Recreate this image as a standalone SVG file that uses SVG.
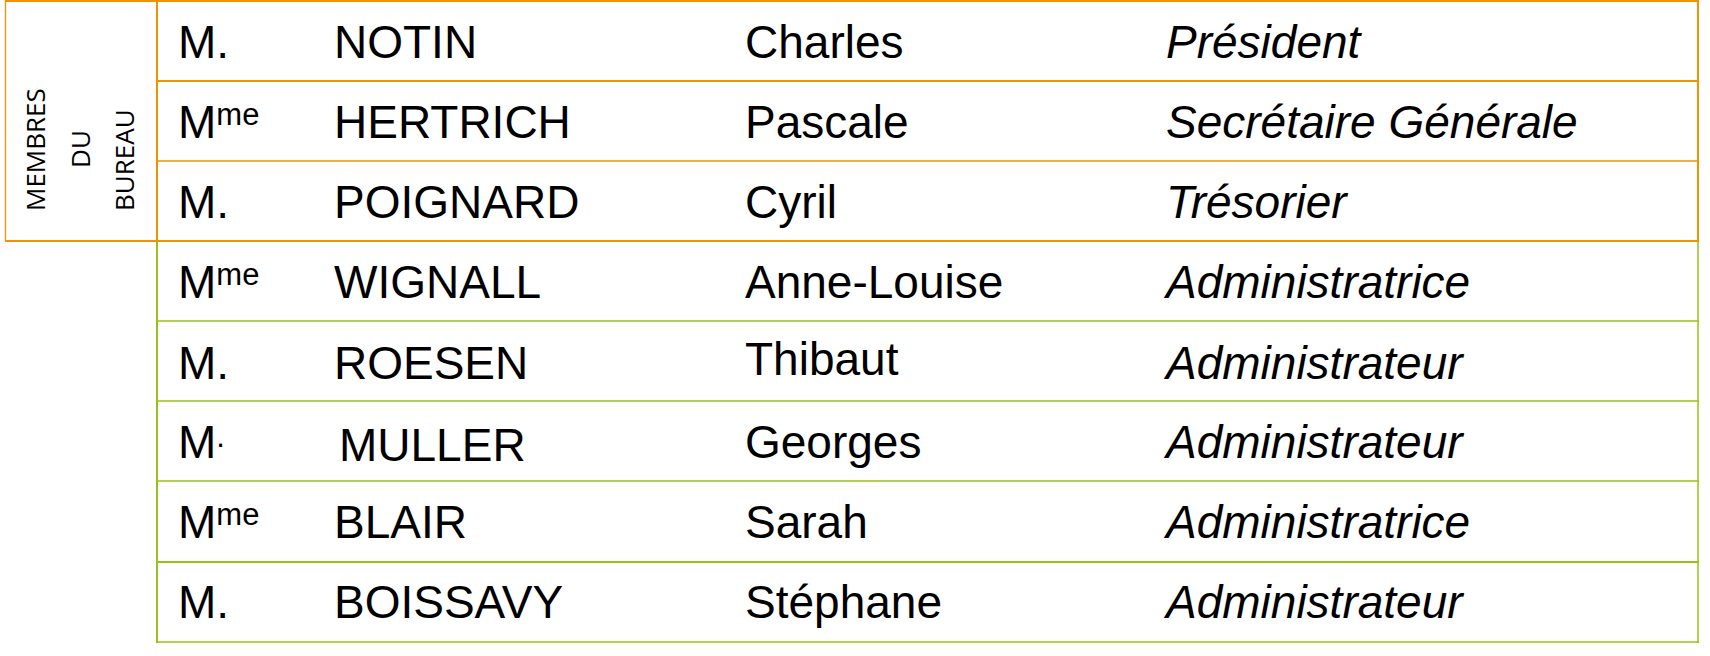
<svg xmlns="http://www.w3.org/2000/svg" width="1710" height="656" viewBox="0 0 1710 656">
<style>
  .t { font-family: "Liberation Sans", Arial, sans-serif; font-size: 46px; fill: #000; }
  .r { font-style: italic; }
  .sup { font-size: 31px; }
  .side { font-family: "Open Sans", "Liberation Sans", sans-serif; font-size: 26px; fill: #000; }
  .o { stroke: #F39200; fill: none; }
  .g { stroke: #98C21A; fill: none; }
</style>
<rect width="1710" height="656" fill="#fff"/>
<g id="grid">
  <rect class="o" x="5.5" y="1" width="151.5" height="240" stroke-width="1.3"/>
  <line class="o" x1="157" y1="0" x2="157" y2="241" stroke-width="2"/>
  <line class="g" x1="157" y1="241" x2="157" y2="643" stroke-width="2"/>
  <line class="o" x1="1698" y1="0" x2="1698" y2="241" stroke-width="2"/>
  <line class="g" x1="1698" y1="241" x2="1698" y2="643" stroke-width="1.5"/>
  <line class="o" x1="5" y1="1" x2="1699" y2="1" stroke-width="2"/>
  <line class="o" x1="157" y1="81" x2="1699" y2="81" stroke-width="2"/>
  <line class="o" x1="157" y1="161" x2="1699" y2="161" stroke-width="1.3"/>
  <line class="o" x1="5" y1="241" x2="1699" y2="241" stroke-width="2"/>
  <line class="g" x1="157" y1="321" x2="1699" y2="321" stroke-width="1.5"/>
  <line class="g" x1="157" y1="401" x2="1699" y2="401" stroke-width="1.5"/>
  <line class="g" x1="157" y1="481" x2="1699" y2="481" stroke-width="1.5"/>
  <line class="g" x1="157" y1="562" x2="1699" y2="562" stroke-width="2.2"/>
  <line class="g" x1="157" y1="642" x2="1699" y2="642" stroke-width="1.5"/>
</g>
<g id="bureau-label">
  <text class="side" transform="translate(45,211) rotate(-90)">MEMBRES</text>
  <text class="side" transform="translate(90,149) rotate(-90)" text-anchor="middle">DU</text>
  <text class="side" transform="translate(134,211) rotate(-90)">BUREAU</text>
</g>
<g id="row1">
  <text class="t" x="178" y="58">M.</text>
  <text class="t" x="334" y="58">NOTIN</text>
  <text class="t" x="745" y="58">Charles</text>
  <text class="t r" x="1166" y="58">Président</text>
</g>
<g id="row2">
  <text class="t" x="178" y="138">M<tspan class="sup" dy="-13">me</tspan></text>
  <text class="t" x="334" y="138">HERTRICH</text>
  <text class="t" x="745" y="138">Pascale</text>
  <text class="t r" x="1166" y="138">Secrétaire Générale</text>
</g>
<g id="row3">
  <text class="t" x="178" y="218">M.</text>
  <text class="t" x="334" y="218">POIGNARD</text>
  <text class="t" x="745" y="218">Cyril</text>
  <text class="t r" x="1166" y="218">Trésorier</text>
</g>
<g id="row4">
  <text class="t" x="178" y="298">M<tspan class="sup" dy="-13">me</tspan></text>
  <text class="t" x="334" y="298">WIGNALL</text>
  <text class="t" x="745" y="298">Anne-Louise</text>
  <text class="t r" x="1166" y="298">Administratrice</text>
</g>
<g id="row5">
  <text class="t" x="178" y="379">M.</text>
  <text class="t" x="334" y="379">ROESEN</text>
  <text class="t" x="745" y="375">Thibaut</text>
  <text class="t r" x="1166" y="379">Administrateur</text>
</g>
<g id="row6">
  <text class="t" x="178" y="458">M<tspan class="sup" dy="-11">.</tspan></text>
  <text class="t" x="339" y="461">MULLER</text>
  <text class="t" x="745" y="458">Georges</text>
  <text class="t r" x="1166" y="458">Administrateur</text>
</g>
<g id="row7">
  <text class="t" x="178" y="538">M<tspan class="sup" dy="-13">me</tspan></text>
  <text class="t" x="334" y="538">BLAIR</text>
  <text class="t" x="745" y="538">Sarah</text>
  <text class="t r" x="1166" y="538">Administratrice</text>
</g>
<g id="row8">
  <text class="t" x="178" y="618">M.</text>
  <text class="t" x="334" y="618">BOISSAVY</text>
  <text class="t" x="745" y="618">Stéphane</text>
  <text class="t r" x="1166" y="618">Administrateur</text>
</g>
</svg>
